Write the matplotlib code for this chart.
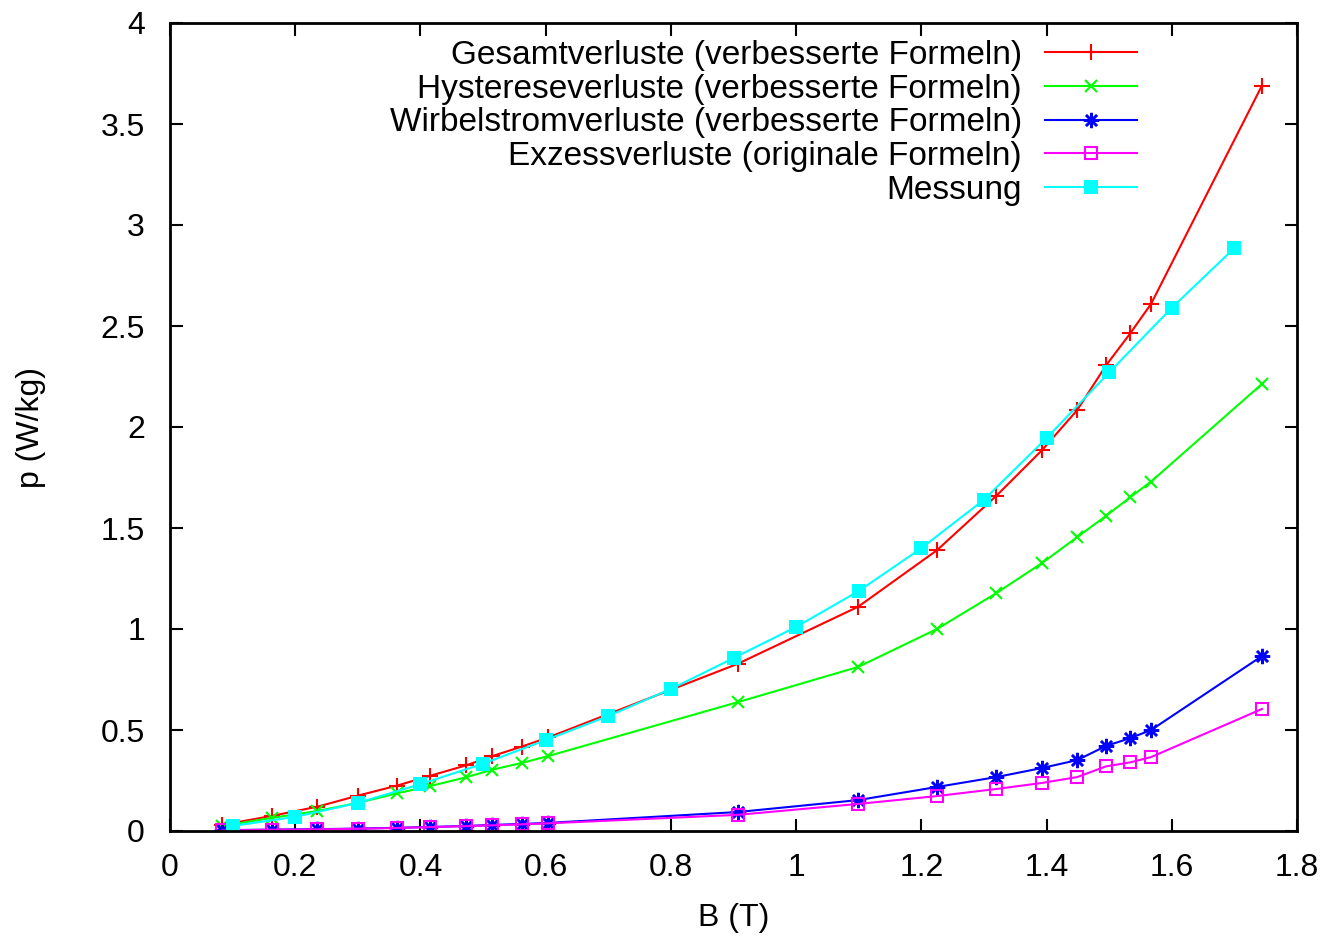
import matplotlib
matplotlib.use("Agg")
import matplotlib.pyplot as plt
from matplotlib.ticker import FuncFormatter

plt.rcParams['font.family'] = ['Liberation Sans', 'DejaVu Sans']

# Model B values (T)
B_model = [0.083, 0.163, 0.235, 0.300, 0.363, 0.415, 0.473, 0.514, 0.562, 0.604,
           0.907, 1.099, 1.225, 1.320, 1.393, 1.449, 1.495, 1.534, 1.567, 1.744]
p_gesamt = [0.03, 0.075, 0.12, 0.175, 0.225, 0.273, 0.325, 0.37, 0.418, 0.463,
            0.828, 1.11, 1.39, 1.66, 1.886, 2.084, 2.305, 2.465, 2.61, 3.69]
p_hyst = [0.025, 0.065, 0.099, 0.139, 0.187, 0.222, 0.266, 0.303, 0.337, 0.371,
          0.638, 0.812, 1.0, 1.178, 1.327, 1.455, 1.56, 1.653, 1.73, 2.213]
p_wirbel = [0.004, 0.007, 0.009, 0.012, 0.016, 0.02, 0.025, 0.03, 0.035, 0.04,
            0.094, 0.153, 0.218, 0.267, 0.312, 0.351, 0.421, 0.46, 0.5, 0.866]
p_exzess = [0.003, 0.006, 0.008, 0.011, 0.015, 0.019, 0.024, 0.028, 0.033, 0.038,
            0.08, 0.134, 0.173, 0.208, 0.238, 0.267, 0.32, 0.34, 0.366, 0.604]

# Measurement
B_mess = [0.1, 0.2, 0.3, 0.4, 0.5, 0.6, 0.7, 0.8, 0.9, 1.0, 1.1, 1.2, 1.3, 1.4, 1.5, 1.6, 1.7]
p_mess = [0.025, 0.07, 0.139, 0.232, 0.333, 0.45, 0.569, 0.703, 0.856, 1.01, 1.188,
          1.40, 1.64, 1.945, 2.27, 2.59, 2.886]

labels = ["Gesamtverluste (verbesserte Formeln)",
          "Hystereseverluste (verbesserte Formeln)",
          "Wirbelstromverluste (verbesserte Formeln)",
          "Exzessverluste (originale Formeln)",
          "Messung"]

x_ticks = [0, 0.2, 0.4, 0.6, 0.8, 1.0, 1.2, 1.4, 1.6, 1.8]
y_ticks = [0, 0.5, 1.0, 1.5, 2.0, 2.5, 3.0, 3.5, 4.0]

FS = 23
LFS = 24

fig = plt.figure(figsize=(13.25, 9.35), dpi=100)
ax = fig.add_axes([170/1325, 1-831/935, (1297-170)/1325, (831-23)/935])

lw = 1.5
ax.plot(B_model, p_gesamt, color='#ff0000', lw=lw, marker='+', ms=11, mew=1.5, label=labels[0])
ax.plot(B_model, p_hyst, color='#00ff00', lw=lw, marker='x', ms=9, mew=1.5, label=labels[1])
ax.plot(B_model, p_wirbel, color='#0000ff', lw=lw, marker=(8, 2, 0), ms=11, mew=1.8, label=labels[2])
ax.plot(B_model, p_exzess, color='#ff00ff', lw=lw, marker='s', ms=9, mew=1.5,
        mfc='none', label=labels[3])
ax.plot(B_mess, p_mess, color='#00ffff', lw=lw, marker='s', ms=10, mew=0, label=labels[4])

ax.set_xlim(0, 1.8)
ax.set_ylim(0, 4)
ax.set_xticks(x_ticks)
ax.set_yticks(y_ticks)
fmt = FuncFormatter(lambda v, pos: ('%g' % round(v, 3)))
ax.xaxis.set_major_formatter(fmt)
ax.yaxis.set_major_formatter(fmt)
ax.tick_params(direction='in', length=9, width=1.5, top=True, right=True,
               labelsize=FS, colors='black')
ax.tick_params(axis='x', pad=16)
ax.tick_params(axis='y', pad=18)
for s in ax.spines.values():
    s.set_linewidth(2)

ax.set_xlabel("B (T)", fontsize=FS, labelpad=14)
ax.set_ylabel("p (W/kg)", fontsize=FS, labelpad=39)

leg = ax.legend(loc='upper right', bbox_to_anchor=(0.858, 0.979), frameon=False,
                markerfirst=False, fontsize=LFS, handlelength=2.76, handletextpad=0.69,
                labelspacing=0.08, borderpad=0, borderaxespad=0, numpoints=1)

fig.savefig("out.png", dpi=100)
